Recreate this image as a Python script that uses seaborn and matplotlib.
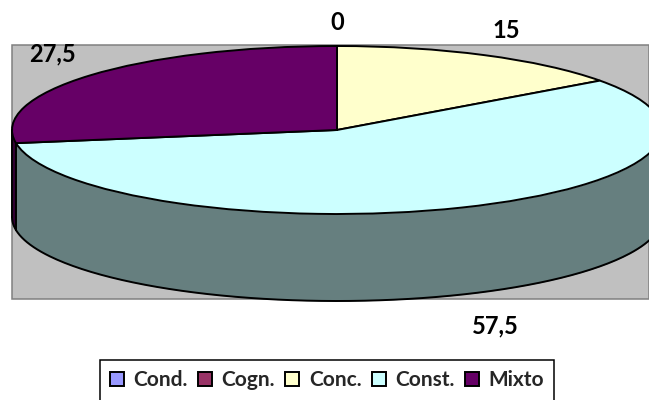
import numpy as np
import matplotlib.pyplot as plt
from matplotlib.patches import Rectangle
import seaborn as sns

# --- Data ---
categories = ["Cond.", "Cogn.", "Conc.", "Const.", "Mixto"]
values = [0, 0, 15, 57.5, 27.5]
label_texts = ["0", "15", "57,5", "27,5"]
label_pos = [(337, 22), (506, 30), (495, 326), (52, 54)]
colors = ["#9999FF", "#993366", "#FFFFCC", "#CCFFFF", "#660066"]
wall_colors = {"Const.": "#667F7F", "Mixto": "#330033"}

# --- Config (pixels of the 649x400 picture) ---
W, H = 649, 400
cx, cy, rx, ry = 337, 130, 325, 84
depth = 87 / ry
lw = 1.4

sns.set_theme(style="white")
plt.rcParams["font.family"] = ["Lato", "DejaVu Sans"]

fig = plt.figure(figsize=(W / 100, H / 100), dpi=100)
fig.patch.set_facecolor("white")
ax = fig.add_axes([0, 0, 1, 1])

# gray plot area behind the pie
fig.add_artist(Rectangle((12 / W, 1 - 299 / H), (W - 12) / W, 254 / H, transform=fig.transFigure,
                         facecolor="#C0C0C0", edgecolor="#808080", lw=1.1, zorder=-1))

wedges, _ = ax.pie(values, colors=colors, startangle=90, counterclock=False, radius=1,
                   wedgeprops={"edgecolor": "black", "linewidth": lw, "zorder": 3})

# side wall: only the part of each slice on the front half of the ellipse
angle = 90.0
total = sum(values)
for name, v in zip(categories, values):
    end = angle - 360 * v / total
    lo, hi = max(end, -180), min(angle, 0)
    if name in wall_colors and lo < hi:
        t = np.radians(np.linspace(lo, hi, 200))
        ax.fill_between(np.cos(t), np.sin(t), np.sin(t) - depth, color=wall_colors[name], lw=0, zorder=1)
        ax.plot(np.cos(t), np.sin(t) - depth, color="black", lw=lw, zorder=2)
        ax.plot([np.cos(t[0])] * 2, [np.sin(t[0]), np.sin(t[0]) - depth], color="black", lw=lw, zorder=2)
    angle = end

ax.set_aspect("auto")
ax.set_xlim(-cx / rx, (W - cx) / rx)
ax.set_ylim(-(H - cy) / ry, cy / ry)
ax.axis("off")

# data labels
for txt, (x, y) in zip(label_texts, label_pos):
    fig.text(x / W, 1 - y / H, txt, ha="center", va="center", fontsize=17, fontweight="bold", color="black")

leg = ax.legend(wedges, categories, ncol=5, loc="upper center", bbox_to_anchor=(327 / W, 1 - 360 / H),
                bbox_transform=fig.transFigure, borderaxespad=0, fancybox=False, framealpha=1,
                edgecolor="black", handlelength=0.67, handleheight=0.67, handletextpad=0.45,
                columnspacing=0.5, borderpad=0.5, prop={"size": 15, "weight": "bold"})
leg.get_frame().set_linewidth(1.1)

plt.savefig("out.png", dpi=100)
